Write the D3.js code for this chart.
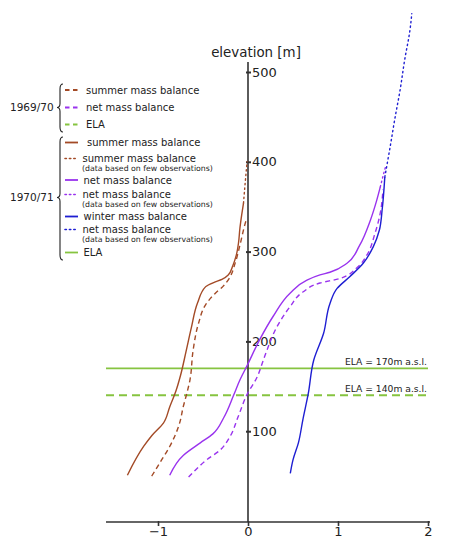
<!DOCTYPE html>
<html>
<head>
<meta charset="utf-8">
<script src="https://cdn.jsdelivr.net/npm/d3@7"></script>
<style>
  html, body { margin: 0; padding: 0; background: #fff; }
  svg { display: block; font-family: "DejaVu Sans", Verdana, sans-serif; }
</style>
</head>
<body>
<svg id="chart" width="451" height="550"></svg>
<script>
// ---- data: [mass balance (m w.e.), elevation (m)] ----
const summer7071 = [[-1.34,51],[-1.16,83],[-1.07,95],[-0.94,109],[-0.87,127],[-0.80,145],[-0.75,162],[-0.69,188],[-0.63,215],[-0.56,243],[-0.47,261],[-0.37,266],[-0.29,269],[-0.22,274],[-0.17,284],[-0.13,296],[-0.105,310],[-0.09,326],[-0.07,341],[-0.05,354]];
const summer7071Few = [[-0.05,354],[-0.03,378],[-0.01,400]];
const summer6970 = [[-1.07,50],[-0.96,68],[-0.87,83],[-0.76,109],[-0.72,127],[-0.68,142],[-0.645,157],[-0.61,190],[-0.55,220],[-0.47,241],[-0.36,254],[-0.28,261],[-0.21,270],[-0.14,288],[-0.09,307],[-0.035,330],[-0.015,337]];
const net7071 = [[-0.87,51],[-0.72,73],[-0.53,87],[-0.39,97],[-0.27,115],[-0.16,140],[-0.09,157],[-0.01,173],[0.13,202],[0.28,228],[0.47,254],[0.65,268],[0.80,274],[0.91,277],[1.10,287],[1.24,307],[1.36,335],[1.43,357],[1.47,372]];
const net7071Few = [[1.47,372],[1.50,384],[1.53,395]];
const net6970 = [[-0.66,49],[-0.46,68],[-0.31,79],[-0.20,94],[-0.11,116],[-0.01,141],[0.10,160],[0.17,179],[0.21,190],[0.32,216],[0.47,239],[0.61,255],[0.80,265],[1.02,270],[1.21,282],[1.32,296],[1.41,320],[1.47,343],[1.50,369]];
const winter7071 = [[0.47,53],[0.50,68],[0.56,87],[0.61,113],[0.67,142],[0.73,179],[0.84,209],[0.91,242],[0.99,259],[1.13,272],[1.28,287],[1.39,305],[1.46,324],[1.49,346],[1.52,383]];
const winter7071Few = [[1.52,383],[1.58,417],[1.63,447],[1.69,480],[1.74,513],[1.80,547],[1.82,565]];
const ela6970 = 140;
const ela7071 = 170;
const xTicks = [-1, 0, 1, 2];
const yTicks = [100, 200, 300, 400, 500];
const legend6970 = ["summer mass balance", "net mass balance", "ELA"];
const legend7071 = ["summer mass balance", "summer mass balance", "net mass balance", "net mass balance", "winter mass balance", "net mass balance", "ELA"];
const fewNote = "(data based on few observations)";

// ---- styles ----
const BROWN = "#a34a26", PURPLE = "#9933ee", BLUE = "#1e1ed2", GREEN = "#86c440", AXIS = "#333";
const DASH = "5,3.5", DOT = "1.4,3.2";

const svg = d3.select("#chart");
const x = d3.scaleLinear().domain([-1, 2]).range([158, 428]);
const y = d3.scaleLinear().domain([0, 500]).range([521, 72]);

// ELA lines
const elaX0 = 106, elaX1 = 428;
svg.append("line").attr("x1", elaX0).attr("x2", elaX1).attr("y1", y(ela7071)).attr("y2", y(ela7071))
  .attr("stroke", GREEN).attr("stroke-width", 1.6);
svg.append("line").attr("x1", elaX0).attr("x2", elaX1).attr("y1", y(ela6970)).attr("y2", y(ela6970))
  .attr("stroke", GREEN).attr("stroke-width", 2).attr("stroke-dasharray", "8,5");
svg.append("text").attr("x", 427).attr("y", y(ela7071) - 3).attr("text-anchor", "end")
  .attr("font-size", 9.2).attr("fill", "#222").text("ELA = " + ela7071 + "m a.s.l.");
svg.append("text").attr("x", 427).attr("y", y(ela6970) - 3).attr("text-anchor", "end")
  .attr("font-size", 9.2).attr("fill", "#222").text("ELA = " + ela6970 + "m a.s.l.");

// axes
const xAxis = d3.axisBottom(x).tickValues(xTicks).tickSize(4).tickFormat(d => d < 0 ? "\u2212" + Math.abs(d) : d);
const gx = svg.append("g").attr("transform", `translate(0,${y(0) + 1})`).call(xAxis);
gx.select(".domain").remove();
gx.selectAll(".tick line").attr("stroke", AXIS).attr("stroke-width", 1.6).attr("y1", -1);
gx.selectAll(".tick text").attr("font-size", 13).attr("font-family", "DejaVu Sans, Verdana, sans-serif").attr("fill", "#222").attr("dy", "0.55em");
svg.append("line").attr("x1", 106).attr("x2", 430).attr("y1", y(0) + 1).attr("y2", y(0) + 1)
  .attr("stroke", AXIS).attr("stroke-width", 1.6);

const yAxis = d3.axisRight(y).tickValues(yTicks).tickSize(3);
const gy = svg.append("g").attr("transform", `translate(${x(0)},0)`).call(yAxis);
gy.select(".domain").remove();
gy.selectAll(".tick line").attr("stroke", AXIS).attr("stroke-width", 2).attr("x1", -2);
gy.selectAll(".tick text").attr("font-size", 13).attr("font-family", "DejaVu Sans, Verdana, sans-serif").attr("fill", "#222").attr("x", 4);
svg.append("line").attr("x1", x(0)).attr("x2", x(0)).attr("y1", 62).attr("y2", y(0) + 1)
  .attr("stroke", AXIS).attr("stroke-width", 1.6);
svg.append("text").attr("x", 256).attr("y", 57).attr("text-anchor", "middle")
  .attr("font-size", 13.4).attr("fill", "#222").text("elevation [m]");

// curves
const line = d3.line().x(d => x(d[0])).y(d => y(d[1])).curve(d3.curveMonotoneY);
function curve(data, color, dash, width) {
  const p = svg.append("path").datum(data).attr("d", line).attr("fill", "none")
    .attr("stroke", color).attr("stroke-width", width || 1.4).attr("stroke-linecap", dash === DOT ? "round" : "butt");
  if (dash) p.attr("stroke-dasharray", dash);
}
curve(summer6970, BROWN, DASH);
curve(summer7071, BROWN, null);
curve(summer7071Few, BROWN, DOT);
curve(net6970, PURPLE, DASH);
curve(net7071, PURPLE, null);
curve(net7071Few, PURPLE, DOT);
curve(winter7071, BLUE, null);
curve(winter7071Few, BLUE, DOT);

// legend
const lg = svg.append("g").attr("fill", "#222");
function brace(x0, yTop, yMid, yBot) {
  const xi = x0 - 3, xt = x0 - 6;
  const d = `M${x0},${yTop} Q${xi},${yTop} ${xi},${yTop + 5} L${xi},${yMid - 4} Q${xi},${yMid} ${xt},${yMid}`
          + ` Q${xi},${yMid} ${xi},${yMid + 4} L${xi},${yBot - 5} Q${xi},${yBot} ${x0},${yBot}`;
  lg.append("path").attr("d", d).attr("fill", "none").attr("stroke", "#222").attr("stroke-width", 1.1);
}
brace(63, 84, 107.5, 132);
brace(63, 137, 197.5, 260);
lg.append("text").attr("x", 10).attr("y", 107.5).attr("dy", "0.35em").attr("font-size", 10.5).text("1969/70");
lg.append("text").attr("x", 10).attr("y", 197.5).attr("dy", "0.35em").attr("font-size", 10.5).text("1970/71");

function sym(yy, color, dash) {
  const l = lg.append("line").attr("x1", 65).attr("x2", 78).attr("y1", yy).attr("y2", yy)
    .attr("stroke", color).attr("stroke-width", dash === DOT ? 1.6 : 1.8);
  if (dash === DOT) l.attr("stroke-dasharray", "1.4,3").attr("stroke-linecap", "round");
  else if (dash) l.attr("stroke-dasharray", "4.5,3.5");
}
function label(xx, yy, t, fs) {
  lg.append("text").attr("x", xx).attr("y", yy).attr("dy", "0.35em").attr("font-size", fs || 10).text(t);
}
// 1969/70
const g1y = [90, 107.5, 124.5];
const g1c = [BROWN, PURPLE, GREEN];
legend6970.forEach((t, i) => { sym(g1y[i], g1c[i], DASH); label(86, g1y[i], t); });
// 1970/71
const g2y = [142.5, 158.5, 180, 194.5, 216.5, 229.5, 252.5];
const g2c = [BROWN, BROWN, PURPLE, PURPLE, BLUE, BLUE, GREEN];
const g2d = [null, DOT, null, DOT, null, DOT, null];
legend7071.forEach((t, i) => {
  sym(g2y[i], g2c[i], g2d[i]);
  if (g2d[i] === DOT) {
    label(82.5, g2y[i], t);
    label(82, g2y[i] + 9.5, fewNote, 7.8);
  } else {
    label(i === 0 ? 87 : 83.5, g2y[i], t);
  }
});
</script>
</body>
</html>
